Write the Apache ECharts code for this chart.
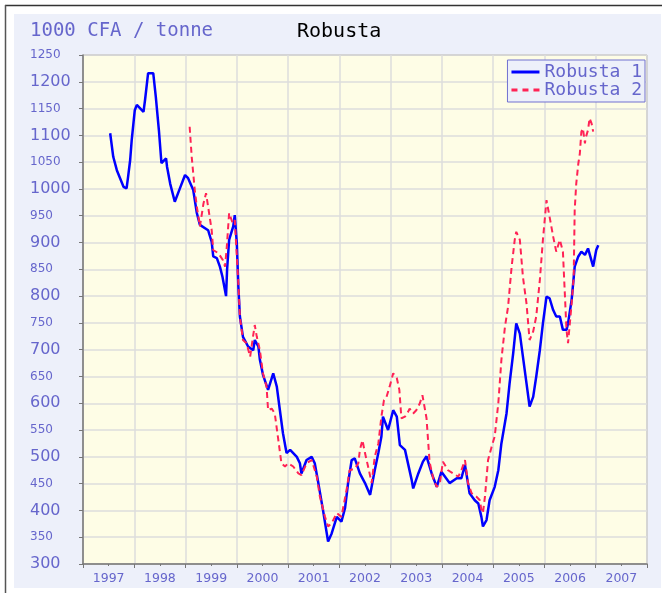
<!DOCTYPE html>
<html lang="fr">
<head>
    <meta charset="UTF-8">
    <title>Robusta</title>
    <style>
        html, body { margin: 0; padding: 0; background: #fff; }
    </style>
</head>
<body>
    <div id="main" style="width: 668px;height:593px;"></div>
    <script src="https://cdn.jsdelivr.net/npm/echarts@6/dist/echarts.min.js"></script>
    <script>

// Robusta 1 (trait plein)
var r1Years = [
    1997.53, 1997.59, 1997.66, 1997.79, 1997.85, 1997.88, 1997.92, 1997.95, 1998.01, 1998.05,
    1998.18, 1998.21, 1998.27, 1998.37, 1998.42, 1998.48, 1998.53, 1998.62, 1998.64, 1998.70,
    1998.79, 1998.89, 1998.99, 1999.05, 1999.15, 1999.22, 1999.28, 1999.44, 1999.51, 1999.54,
    1999.61, 1999.67, 1999.72, 1999.79, 1999.81, 1999.85, 1999.93, 1999.96, 2000.00, 2000.03,
    2000.06, 2000.12, 2000.22, 2000.32, 2000.35, 2000.42, 2000.45, 2000.51, 2000.61, 2000.71,
    2000.78, 2000.84, 2000.90, 2000.97, 2001.04, 2001.17, 2001.23, 2001.26, 2001.36, 2001.46,
    2001.52, 2001.59, 2001.68, 2001.78, 2001.85, 2001.95, 2002.04, 2002.11, 2002.17, 2002.24,
    2002.30, 2002.40, 2002.50, 2002.60, 2002.63, 2002.69, 2002.76, 2002.82, 2002.85, 2002.95,
    2003.05, 2003.12, 2003.18, 2003.28, 2003.41, 2003.44, 2003.54, 2003.63, 2003.70, 2003.80,
    2003.90, 2003.99, 2004.15, 2004.29, 2004.38, 2004.45, 2004.54, 2004.64, 2004.71, 2004.77,
    2004.80, 2004.87, 2004.93, 2005.03, 2005.10, 2005.16, 2005.26, 2005.32, 2005.39, 2005.45,
    2005.52, 2005.58, 2005.65, 2005.71, 2005.78, 2005.84, 2005.91, 2005.97, 2006.04, 2006.10,
    2006.17, 2006.23, 2006.30, 2006.36, 2006.43, 2006.46, 2006.53, 2006.59, 2006.66, 2006.72,
    2006.79, 2006.85, 2006.88, 2006.95, 2007.01, 2007.05
];
var r1Prices = [
    1104, 1060, 1035, 1004, 1001, 1023, 1054, 1091, 1147, 1157,
    1144, 1166, 1216, 1216, 1172, 1110, 1048, 1057, 1041, 1010,
    976, 1001, 1026, 1020, 998, 955, 933, 923, 901, 874,
    871, 855, 836, 800, 849, 905, 930, 951, 899, 818,
    762, 724, 706, 699, 718, 706, 681, 653, 625, 656,
    631, 587, 544, 507, 513, 500, 488, 469, 494, 500,
    488, 451, 401, 342, 357, 388, 379, 404, 451, 494,
    497, 469, 451, 429, 426, 475, 507, 538, 575, 550,
    587, 575, 522, 513, 457, 441, 469, 491, 501, 469,
    444, 472, 451, 460, 460, 485, 432, 419, 413, 388,
    370, 382, 419, 444, 475, 525, 581, 637, 693, 749,
    730, 687, 637, 594, 612, 650, 699, 749, 799, 796,
    774, 762, 762, 737, 737, 749, 793, 855, 874, 883,
    877, 889, 892, 855, 886, 895
];

// Robusta 2 (tirets)
var r2Years = [
    1999.08, 1999.12, 1999.18, 1999.22, 1999.28, 1999.35, 1999.40, 1999.44, 1999.51, 1999.54,
    1999.64, 1999.73, 1999.77, 1999.80, 1999.85, 1999.92, 1999.96, 2000.03, 2000.06, 2000.12,
    2000.19, 2000.26, 2000.32, 2000.35, 2000.39, 2000.45, 2000.51, 2000.58, 2000.61, 2000.68,
    2000.74, 2000.81, 2000.87, 2000.94, 2001.00, 2001.10, 2001.20, 2001.26, 2001.36, 2001.46,
    2001.56, 2001.62, 2001.72, 2001.78, 2001.85, 2001.95, 2002.04, 2002.14, 2002.20, 2002.30,
    2002.37, 2002.40, 2002.45, 2002.50, 2002.56, 2002.63, 2002.69, 2002.76, 2002.82, 2002.87,
    2002.92, 2002.98, 2003.05, 2003.12, 2003.17, 2003.21, 2003.28, 2003.34, 2003.37, 2003.44,
    2003.50, 2003.57, 2003.62, 2003.70, 2003.76, 2003.83, 2003.90, 2003.96, 2004.02, 2004.12,
    2004.22, 2004.32, 2004.38, 2004.45, 2004.51, 2004.58, 2004.67, 2004.74, 2004.77, 2004.80,
    2004.84, 2004.90, 2004.97, 2005.03, 2005.10, 2005.16, 2005.23, 2005.29, 2005.36, 2005.42,
    2005.45, 2005.52, 2005.58, 2005.65, 2005.71, 2005.78, 2005.84, 2005.91, 2005.97, 2006.04,
    2006.10, 2006.17, 2006.23, 2006.30, 2006.36, 2006.40, 2006.43, 2006.46, 2006.53, 2006.57,
    2006.59, 2006.62, 2006.66, 2006.69, 2006.72, 2006.75, 2006.79, 2006.80, 2006.85, 2006.88,
    2006.92, 2006.95
];
var r2Prices = [
    1116, 1060, 998, 967, 930, 973, 992, 967, 923, 886,
    880, 867, 855, 886, 955, 936, 942, 824, 762, 718,
    712, 687, 727, 746, 724, 699, 656, 631, 587, 590,
    581, 531, 488, 482, 488, 482, 469, 466, 488, 494,
    463, 426, 388, 370, 376, 395, 388, 438, 475, 478,
    488, 513, 531, 507, 482, 451, 500, 525, 575, 606,
    612, 631, 656, 647, 625, 572, 575, 584, 590, 581,
    587, 600, 615, 572, 490, 460, 444, 451, 491, 475,
    469, 463, 475, 494, 451, 432, 426, 419, 401, 395,
    426, 494, 519, 538, 600, 681, 743, 780, 855, 905,
    920, 905, 836, 786, 718, 734, 762, 830, 905, 979,
    948, 911, 883, 905, 883, 799, 737, 712, 786, 836,
    961, 1010, 1047, 1066, 1107, 1113, 1085, 1094, 1110, 1132,
    1122, 1107
];

var seriesNames = ['Robusta 1', 'Robusta 2'];
var unitLabel = '1000 CFA / tonne';
var chartTitle = 'Robusta';

function zip(xs, ys) {
    var out = [];
    for (var i = 0; i < xs.length; i++) out.push([xs[i], ys[i]]);
    return out;
}

var labelColor = '#6666CC';
var gridColor = '#DCDCDC';
var blue = '#0000FF';
var red = '#FF2255';

var option = {
    animation: false,
    backgroundColor: '#fff',
    title: [
        {
            text: unitLabel,
            left: 30, top: 22, padding: 0,
            textStyle: { fontFamily: 'DejaVu Sans Mono', fontSize: 19, fontWeight: 'normal', color: labelColor }
        },
        {
            text: chartTitle,
            left: 297, top: 22, padding: 0,
            textStyle: { fontFamily: 'DejaVu Sans Mono', fontSize: 20, fontWeight: 'normal', color: '#000' }
        }
    ],
    // cadre + fond bleu clair
    graphic: [
        { type: 'rect', z: -10, shape: { x: 14, y: 14, width: 647, height: 574 }, style: { fill: '#EDF0FA' } },
        { type: 'line', z: -9, shape: { x1: 5, y1: 5.5, x2: 662, y2: 5.5 }, style: { stroke: '#333', lineWidth: 1.5 } },
        { type: 'line', z: -9, shape: { x1: 5.5, y1: 5, x2: 5.5, y2: 593 }, style: { stroke: '#555', lineWidth: 1.5 } }
    ],
    legend: {
        data: [
            { name: seriesNames[0], icon: 'path://M0,0H28V3H0Z' },
            { name: seriesNames[1], icon: 'path://M0,0H6V3H0Z M11,0H17V3H11Z M22,0H28V3H22Z' }
        ],
        orient: 'vertical',
        right: 23,
        top: 60,
        itemGap: 0,
        itemWidth: 28,
        itemHeight: 3,
        padding: [3, 3, 3, 4],
        backgroundColor: '#EDF0FA',
        borderColor: '#7070D0',
        borderWidth: 1,
        borderRadius: 0,
        textStyle: { fontFamily: 'DejaVu Sans Mono', fontSize: 18, color: labelColor, lineHeight: 18 }
    },
    grid: {
        left: 83, right: 21, top: 55, bottom: 29,
        show: true,
        backgroundColor: '#FEFDE6',
        borderColor: '#888',
        borderWidth: 1
    },
    xAxis: [
        {
            type: 'value',
            position: 'bottom',
            min: 1997, max: 2008, interval: 1,
            axisLine: { lineStyle: { color: '#777', width: 1.5 } },
            axisTick: { length: 4, lineStyle: { color: '#777' } },
            axisLabel: { show: false },
            splitLine: { show: true, lineStyle: { color: gridColor, width: 1.5 } }
        },
        {
            // années centrées au milieu de chaque année
            type: 'value',
            position: 'bottom',
            offset: 0,
            min: 1997, max: 2008, interval: 0.5,
            axisLine: { show: false },
            axisTick: { length: 2, lineStyle: { color: '#777' } },
            splitLine: { show: false },
            axisLabel: {
                margin: 8,
                color: labelColor,
                fontFamily: 'DejaVu Sans',
                fontSize: 12.5,
                formatter: function (v) {
                    return (Math.abs(v % 1 - 0.5) < 0.01) ? String(Math.floor(v)) : '';
                }
            }
        }
    ],
    yAxis: {
        type: 'value',
        min: 300, max: 1250, interval: 50,
        axisLine: { show: true, lineStyle: { color: '#777', width: 1.5 } },
        axisTick: { show: true, length: 4, lineStyle: { color: '#777' } },
        splitLine: { show: true, lineStyle: { color: gridColor, width: 1.5 } },
        axisLabel: {
            align: 'left',
            margin: 53,
            formatter: function (v) {
                return (v % 100 === 0) ? '{big|' + v + '}' : '{small|' + v + '}';
            },
            rich: {
                big: { fontFamily: 'DejaVu Sans', fontSize: 16, color: labelColor },
                small: { fontFamily: 'DejaVu Sans', fontSize: 12, color: labelColor }
            }
        }
    },
    series: [
        {
            name: seriesNames[0],
            type: 'line',
            xAxisIndex: 0,
            symbol: 'none',
            data: zip(r1Years, r1Prices),
            lineStyle: { color: blue, width: 2.5 },
            itemStyle: { color: blue }
        },
        {
            name: seriesNames[1],
            type: 'line',
            xAxisIndex: 0,
            symbol: 'none',
            data: zip(r2Years, r2Prices),
            lineStyle: { color: red, width: 2, type: [6, 4] },
            itemStyle: { color: red }
        }
    ]
};

var myChart = echarts.init(document.getElementById('main'));
myChart.setOption(option);

    </script>
</body>
</html>
